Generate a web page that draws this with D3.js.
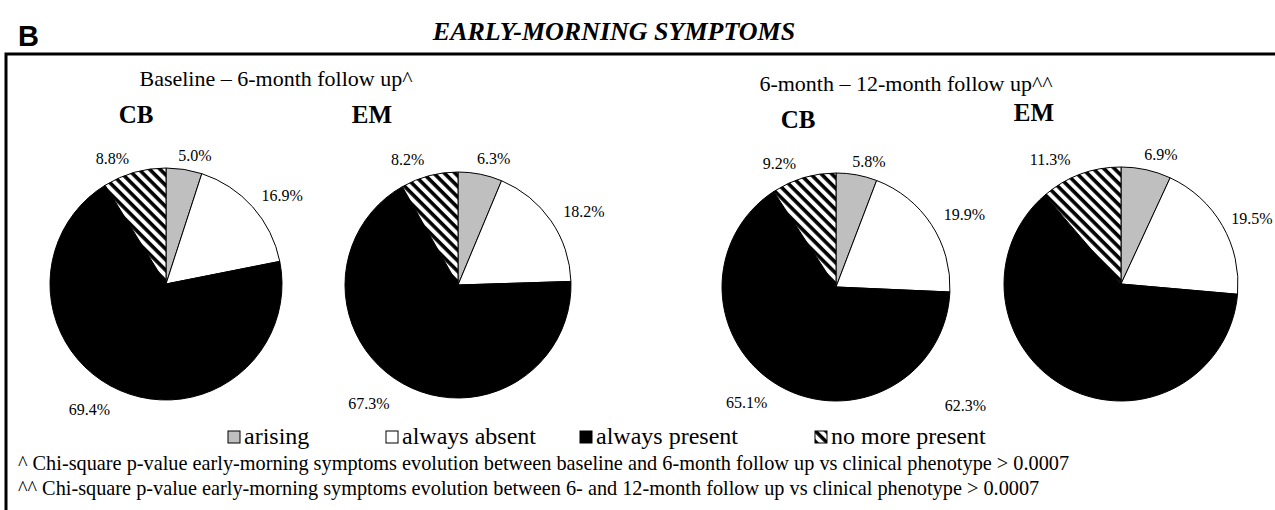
<!DOCTYPE html>
<html>
<head>
<meta charset="utf-8">
<script src="https://cdn.jsdelivr.net/npm/d3@7"></script>
<style>
  body { margin: 0; background: #fff; }
</style>
</head>
<body>
<script>
//Data
const categories = ["arising", "always absent", "always present", "no more present"]
const periods = ["Baseline \u2013 6-month follow up^", "6-month \u2013 12-month follow up^^"]
const groups = ["CB", "EM", "CB", "EM"]
const cbBaseline6 = [5.0, 16.9, 69.4, 8.8]
const emBaseline6 = [6.3, 18.2, 67.3, 8.2]
const cb6to12 = [5.8, 19.9, 65.1, 9.2]
const em6to12 = [6.9, 19.5, 62.3, 11.3]
const footnotes = [
  "^ Chi-square p-value early-morning symptoms evolution between baseline and 6-month follow up vs clinical phenotype > 0.0007",
  "^^ Chi-square p-value early-morning symptoms evolution between 6- and 12-month follow up vs clinical phenotype > 0.0007"
]
const series = [cbBaseline6, emBaseline6, cb6to12, em6to12]

//Layout
const width = 1275
const height = 510
const serif = "'Liberation Serif', 'Times New Roman', Times, 'DejaVu Serif', serif"
const pies = [
  {cx: 166, cy: 284, r: 116, titleX: 136, titleY: 123},
  {cx: 458, cy: 285, r: 113, titleX: 372, titleY: 123},
  {cx: 836, cy: 287, r: 114, titleX: 798, titleY: 128},
  {cx: 1121, cy: 284, r: 117, titleX: 1034, titleY: 121}
]
// shift of each value label from its outside centroid (Excel manual placement)
const labelNudge = [
  [[8, 4], [16, 0], [-23, 3], [-17, 3]],
  [[10, 2], [18, 1], [-25, 4], [-17, 1]],
  [[9, 4], [18, 0], [-24, 1], [-19, 3]],
  [[11, 2], [14, 2], [-94, 1], [-24, 2]]
]
const periodX = [276, 906]
const periodY = [86, 91]
const legendX = [228, 386, 580, 815]
const color = d3.scaleOrdinal()
  .domain(categories)
  .range(["#bfbfbf", "#ffffff", "#000000", "url(#hatch)"])

const svg = d3.select("body").append("svg")
  .attr("width", width)
  .attr("height", height)
  .attr("font-family", serif)

//hatch pattern
const pattern = svg.append("defs").append("pattern")
  .attr("id", "hatch")
  .attr("patternUnits", "userSpaceOnUse")
  .attr("width", 7.5)
  .attr("height", 7.5)
  .attr("patternTransform", "rotate(-45)")
pattern.append("rect")
  .attr("width", 7.5)
  .attr("height", 7.5)
  .attr("fill", "#fff")
pattern.append("line")
  .attr("x1", 2)
  .attr("x2", 2)
  .attr("y1", 0)
  .attr("y2", 7.5)
  .attr("stroke", "#000")
  .attr("stroke-width", 3.6)

//panel letter + title
svg.append("text")
  .attr("x", 18)
  .attr("y", 46)
  .attr("font-family", "'Liberation Sans', Arial, sans-serif")
  .attr("font-weight", "bold")
  .attr("font-size", 29)
  .text("B")

svg.append("text")
  .attr("x", 614)
  .attr("y", 40)
  .attr("text-anchor", "middle")
  .attr("font-weight", "bold")
  .attr("font-style", "italic")
  .attr("font-size", 26)
  .text("EARLY-MORNING SYMPTOMS")

//frame
svg.append("path")
  .attr("d", "M" + width + ",54H6V" + height)
  .attr("fill", "none")
  .attr("stroke", "#000")
  .attr("stroke-width", 3)

//period headings
svg.selectAll(".period")
  .data(periods)
  .enter()
  .append("text")
  .attr("class", "period")
  .attr("x", (d, i) => periodX[i])
  .attr("y", (d, i) => periodY[i])
  .attr("text-anchor", "middle")
  .attr("font-size", 22)
  .text(d => d)

//pies
const pie = d3.pie().sort(null).value(d => d)

series.forEach(function(values, p) {
  const pos = pies[p]
  const g = svg.append("g")
    .attr("transform", "translate(" + pos.cx + "," + pos.cy + ")")

  const arc = d3.arc().innerRadius(0).outerRadius(pos.r)
  const labelArc = d3.arc().innerRadius(pos.r + 18).outerRadius(pos.r + 18)
  const arcs = pie(values)

  g.selectAll("path")
    .data(arcs)
    .enter()
    .append("path")
    .attr("d", arc)
    .attr("fill", (d, i) => color(categories[i]))
    .attr("stroke", "#000")
    .attr("stroke-width", 1)

  g.selectAll(".value")
    .data(arcs)
    .enter()
    .append("text")
    .attr("class", "value")
    .attr("x", (d, i) => labelArc.centroid(d)[0] + labelNudge[p][i][0])
    .attr("y", (d, i) => labelArc.centroid(d)[1] + labelNudge[p][i][1])
    .attr("dy", "0.35em")
    .attr("text-anchor", "middle")
    .attr("font-size", 16)
    .text(d => d.data.toFixed(1) + "%")

  svg.append("text")
    .attr("x", pos.titleX)
    .attr("y", pos.titleY)
    .attr("text-anchor", "middle")
    .attr("font-weight", "bold")
    .attr("font-size", 25)
    .text(groups[p])
})

//legend
const legend = svg.selectAll(".legend")
  .data(categories)
  .enter()
  .append("g")
  .attr("class", "legend")
  .attr("transform", (d, i) => "translate(" + legendX[i] + ",444)")

legend.append("rect")
  .attr("x", 0)
  .attr("y", -13)
  .attr("width", 12)
  .attr("height", 12)
  .attr("fill", d => color(d))
  .attr("stroke", "#000")
  .attr("stroke-width", 1)

legend.append("text")
  .attr("x", 16)
  .attr("y", 0)
  .attr("font-size", 24)
  .text(d => d)

//footnotes
svg.selectAll(".note")
  .data(footnotes)
  .enter()
  .append("text")
  .attr("class", "note")
  .attr("x", 18)
  .attr("y", (d, i) => 470 + i * 25)
  .attr("font-size", 20.3)
  .text(d => d)
</script>
</body>
</html>
